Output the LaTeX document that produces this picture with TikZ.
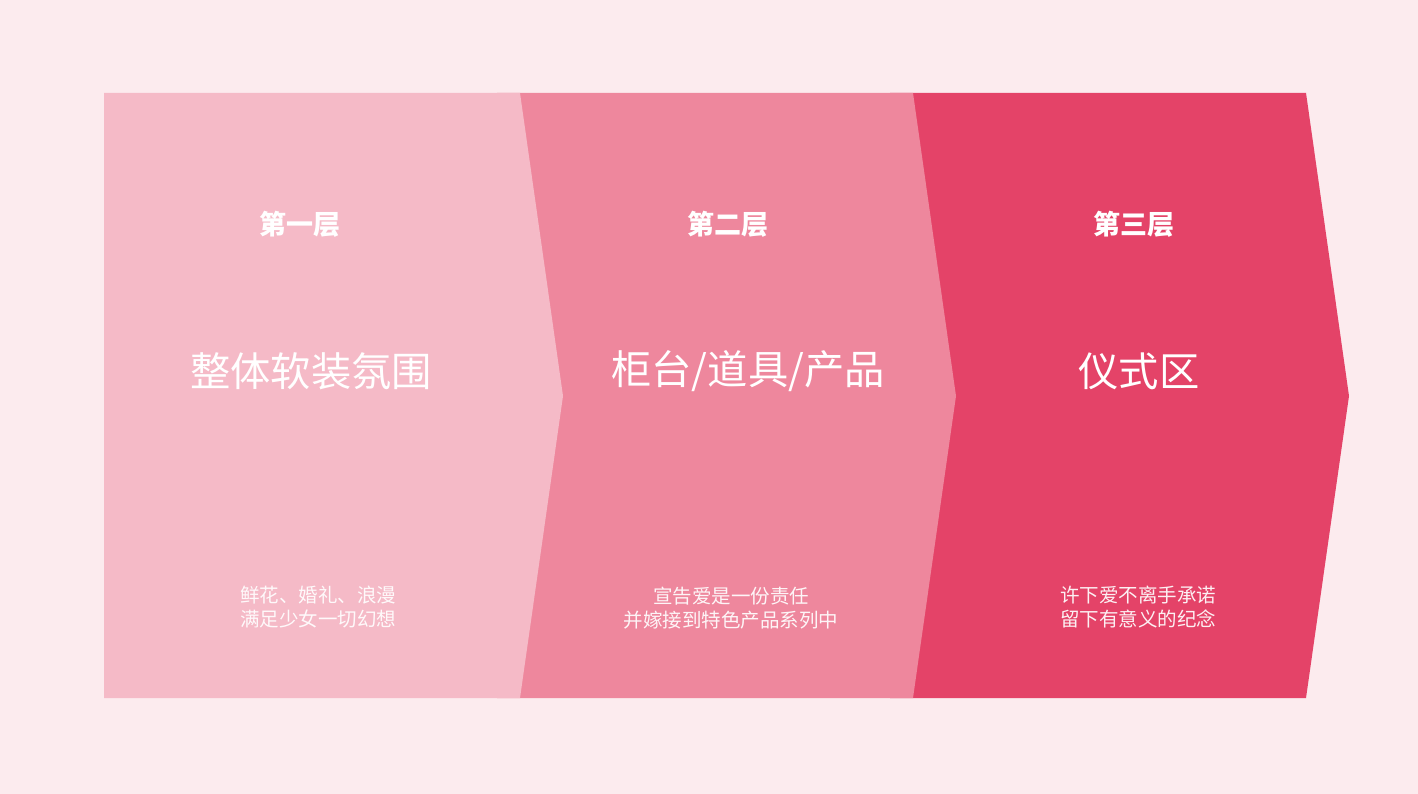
\documentclass[tikz,border=0pt]{standalone}
\usepackage{fontspec}
\setmainfont{Noto Sans CJK SC}
\definecolor{bgpink}{HTML}{FCEBEE}
\definecolor{pA}{HTML}{F5BAC7}
\definecolor{pB}{HTML}{EE879D}
\definecolor{pC}{HTML}{E44368}
\tikzset{
  head/.style={text=white,font=\fontsize{27}{30}\selectfont\bfseries,inner sep=0pt},
  ttl/.style={text=white,font=\fontsize{40.3}{45}\selectfont,inner sep=0pt},
  sub/.style={text=white,text opacity=0.92,font=\fontsize{19.5}{24}\selectfont,align=center,inner sep=0pt}
}
\begin{document}
\begin{tikzpicture}[x=1pt,y=-1pt]
\fill[bgpink] (0,0) rectangle (1418,794);
\useasboundingbox (0,0) rectangle (1418,794);
% chevrons
\fill[pC] (890,93) -- (1306,93) -- (1349,396) -- (1306,698) -- (890,698) -- cycle;
\fill[pB] (497,93) -- (913,93) -- (956,396) -- (913,698) -- (497,698) -- cycle;
\fill[pA] (104,93) -- (520,93) -- (563,396) -- (520,698) -- (104,698) -- cycle;
% panel 1
\node[head] (h1) at (300,224) {第一层};
\node[ttl] (t1) at (311,371) {整体软装氛围};
\node[sub] (s1) at (318,607) {鲜花、婚礼、浪漫\\满足少女一切幻想};
% panel 2
\node[head] (h2) at (728,224) {第二层};
\node[ttl] (t2) at (748,371) {柜台/道具/产品};
\node[sub] (s2) at (731,608) {宣告爱是一份责任\\并嫁接到特色产品系列中};
% panel 3
\node[head] (h3) at (1134,224) {第三层};
\node[ttl] (t3) at (1139,371) {仪式区};
\node[sub] (s3) at (1138,607) {许下爱不离手承诺\\留下有意义的纪念};
\end{tikzpicture}
\end{document}
